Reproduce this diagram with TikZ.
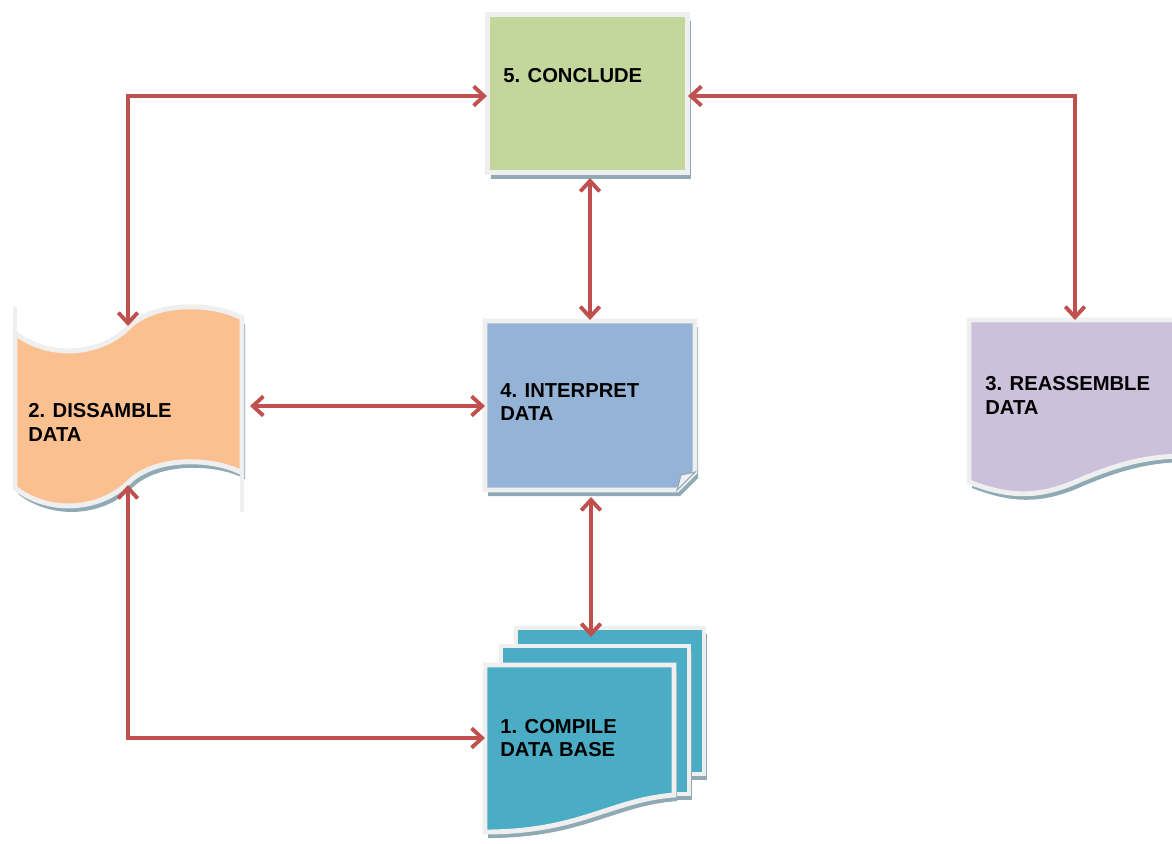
\documentclass[tikz,border=0pt]{standalone}
\usepackage{fontspec}
\setmainfont{Liberation Sans}
\usetikzlibrary{arrows.meta}

\definecolor{verde}{HTML}{C3D69B}
\definecolor{azul}{HTML}{95B3D7}
\definecolor{naranja}{HTML}{FAC090}
\definecolor{lila}{HTML}{CCC1DA}
\definecolor{turquesa}{HTML}{4BACC6}
\definecolor{marcogris}{HTML}{EFEFEF}
\definecolor{sombragris}{HTML}{8FAAB5}
\definecolor{rojo}{HTML}{C0504D}

\tikzset{
  marco/.style={draw=marcogris, line width=2.8pt},
  sombra/.style={fill=sombragris, shift={(3,6)}},
  flecha/.style={draw=rojo, line width=2.2pt,
    {Straight Barb[length=6pt,width=11pt]}-{Straight Barb[length=6pt,width=11pt]}},
  texto/.style={anchor=west, align=left, inner sep=0pt,
    font=\bfseries\fontsize{11.5}{13.6}\selectfont}
}

\begin{document}
\begin{tikzpicture}[x=0.02cm, y=-0.02cm]
    \clip (0,0) rectangle (1172,843);

    % Caja 5: concluir
    \fill[sombra] (487.5,14.5) rectangle (687.5,172.5);
    \filldraw[marco, fill=verde] (487.5,14.5) rectangle (687.5,172.5);

    % Caja 4: interpretar (esquina doblada)
    \fill[sombra] (485,321) -- (695,321) -- (695,472) -- (677,490) -- (485,490) -- cycle;
    \filldraw[marco, fill=azul] (485,321) -- (695,321) -- (695,472) -- (677,490) -- (485,490) -- cycle;
    \filldraw[draw=sombragris, fill=marcogris, line width=0.6pt] (677,490) -- (681,475) -- (695,472) -- cycle;

    % Bandera 2: desarmar
    \fill[sombra] (15,333) .. controls (50,360) and (100,355) .. (128,328)
        .. controls (155,300) and (215,303) .. (242,318) -- (242,473)
        .. controls (215,458) and (155,455) .. (128,483)
        .. controls (100,510) and (50,515) .. (15,488) -- cycle;
    \filldraw[marco, fill=naranja] (15,333) .. controls (50,360) and (100,355) .. (128,328)
        .. controls (155,300) and (215,303) .. (242,318) -- (242,473)
        .. controls (215,458) and (155,455) .. (128,483)
        .. controls (100,510) and (50,515) .. (15,488) -- cycle;
    \draw[marco] (15,307) -- (15,333);
    \draw[marco] (242,473) -- (242,512);

    % Documento 3: rearmar
    \fill[sombra] (969,320) -- (1185,320) -- (1185,456) .. controls (1150,456) and (1120,463) .. (1080,480)
        .. controls (1040,498) and (1010,498) .. (969,482) -- cycle;
    \filldraw[marco, fill=lila] (969,320) -- (1185,320) -- (1185,456) .. controls (1150,456) and (1120,463) .. (1080,480)
        .. controls (1040,498) and (1010,498) .. (969,482) -- cycle;

    % Documentos 1: compilar
    \fill[sombra] (516,628) rectangle (704,774);
    \filldraw[marco, fill=turquesa] (516,628) rectangle (704,774);
    \fill[sombra] (501,646) rectangle (689,794);
    \filldraw[marco, fill=turquesa] (501,646) rectangle (689,794);
    \fill[sombra] (485,665) -- (674,665) -- (674,795) .. controls (610,800) and (580,832) .. (485,832) -- cycle;
    \filldraw[marco, fill=turquesa] (485,665) -- (674,665) -- (674,795) .. controls (610,800) and (580,832) .. (485,832) -- cycle;

    % Puntos de conexion
    \coordinate (conclude-w) at (487,96);
    \coordinate (conclude-e) at (688,96);
    \coordinate (conclude-s) at (590,178);
    \coordinate (interpret-n) at (590,320);
    \coordinate (interpret-w) at (485,406);
    \coordinate (interpret-s) at (591,497);
    \coordinate (dissamble-n) at (128,326);
    \coordinate (dissamble-e) at (250,406);
    \coordinate (dissamble-s) at (128,485);
    \coordinate (reassemble-n) at (1075,320);
    \coordinate (compile-n) at (591,637);
    \coordinate (compile-w) at (485,738);

    % Flechas
    \draw[flecha] (dissamble-n) |- (conclude-w);
    \draw[flecha] (conclude-e) -| (reassemble-n);
    \draw[flecha] (conclude-s) -- (interpret-n);
    \draw[flecha] (dissamble-e) -- (interpret-w);
    \draw[flecha] (interpret-s) -- (compile-n);
    \draw[flecha] (dissamble-s) |- (compile-w);

    % Etiquetas
    \node[texto] (t-conclude) at (503,76) {5. CONCLUDE};
    \node[texto] (t-interpret) at (500,402) {4. INTERPRET\\DATA};
    \node[texto] (t-dissamble) at (28,422) {2. DISSAMBLE\\DATA};
    \node[texto] (t-reassemble) at (985,395) {3. REASSEMBLE\\DATA};
    \node[texto] (t-compile) at (500,738) {1. COMPILE\\DATA BASE};
\end{tikzpicture}
\end{document}
